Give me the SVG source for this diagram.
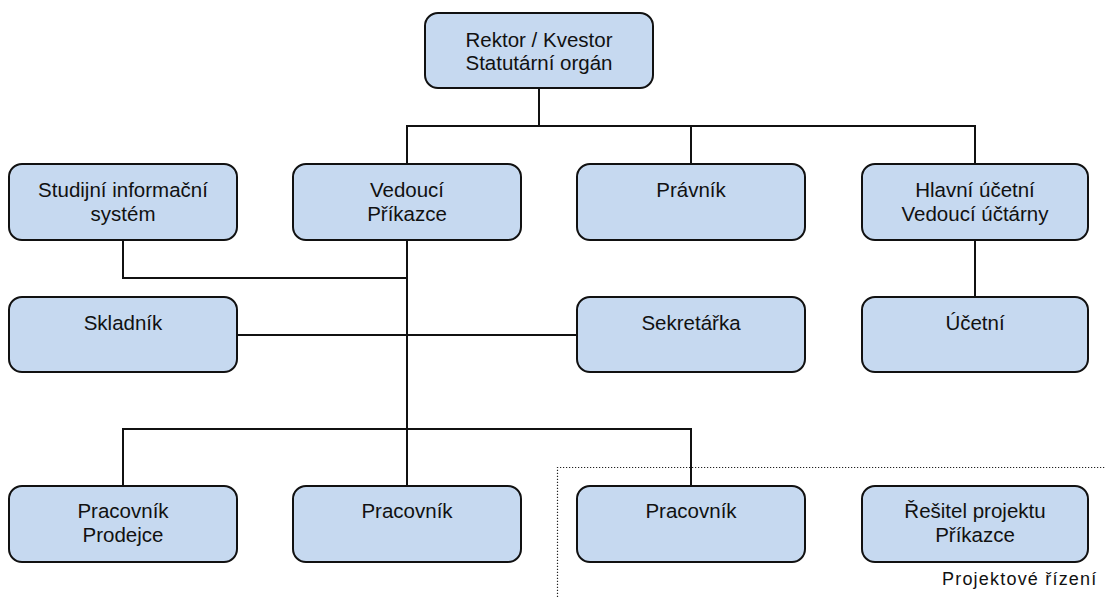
<svg xmlns="http://www.w3.org/2000/svg" width="1105" height="597" viewBox="0 0 1105 597">
  <style>
    .box { fill: #c6d9f0; stroke: #111; stroke-width: 2; }
    .lbl { font-family: "Liberation Sans", Arial, sans-serif; font-size: 20.5px; fill: #111; text-anchor: middle; }
    .link { fill: none; stroke: #111; stroke-width: 2; }
    .zone { fill: none; stroke: #222; stroke-width: 1.2; stroke-dasharray: 1.2 1.8; }
    .cap { font-family: "Liberation Sans", Arial, sans-serif; font-size: 18px; fill: #111; letter-spacing: 1.2px; }
  </style>

  <!-- project management zone -->
  <g id="zone-projekt">
    <path class="zone" d="M557.5 597 V467.5 H1105"/>
    <text class="cap" x="942" y="585">Projektové řízení</text>
  </g>

  <!-- connectors -->
  <g id="connectors">
    <path class="link" d="M539 88 V126"/>
    <path class="link" d="M407 164 V126 H975 V164"/>
    <path class="link" d="M691 126 V164"/>
    <path class="link" d="M975 240 V297"/>
    <path class="link" d="M407 240 V486"/>
    <path class="link" d="M123 240 V278 H407"/>
    <path class="link" d="M237 335 H577"/>
    <path class="link" d="M123 486 V429 H691 V486"/>
  </g>

  <g id="rektor">
    <rect class="box" x="425" y="13" width="228" height="75" rx="13"/>
    <text class="lbl" x="539" y="46.5">Rektor / Kvestor</text>
    <text class="lbl" x="539" y="70">Statutární orgán</text>
  </g>

  <g id="studijni-system">
    <rect class="box" x="9" y="164" width="228" height="76" rx="13"/>
    <text class="lbl" x="123" y="197">Studijní informační</text>
    <text class="lbl" x="123" y="220.5">systém</text>
  </g>

  <g id="vedouci">
    <rect class="box" x="293" y="164" width="228" height="76" rx="13"/>
    <text class="lbl" x="407" y="197">Vedoucí</text>
    <text class="lbl" x="407" y="220.5">Příkazce</text>
  </g>

  <g id="pravnik">
    <rect class="box" x="577" y="164" width="228" height="76" rx="13"/>
    <text class="lbl" x="691" y="197">Právník</text>
  </g>

  <g id="hlavni-ucetni">
    <rect class="box" x="862" y="164" width="226" height="76" rx="13"/>
    <text class="lbl" x="975" y="197">Hlavní účetní</text>
    <text class="lbl" x="975" y="220.5">Vedoucí účtárny</text>
  </g>

  <g id="skladnik">
    <rect class="box" x="9" y="297" width="228" height="75" rx="13"/>
    <text class="lbl" x="123" y="329.5">Skladník</text>
  </g>

  <g id="sekretarka">
    <rect class="box" x="577" y="297" width="228" height="75" rx="13"/>
    <text class="lbl" x="691" y="329.5">Sekretářka</text>
  </g>

  <g id="ucetni">
    <rect class="box" x="862" y="297" width="226" height="75" rx="13"/>
    <text class="lbl" x="975" y="329.5">Účetní</text>
  </g>

  <g id="pracovnik-prodejce">
    <rect class="box" x="9" y="486" width="228" height="76" rx="13"/>
    <text class="lbl" x="123" y="518">Pracovník</text>
    <text class="lbl" x="123" y="541.5">Prodejce</text>
  </g>

  <g id="pracovnik-1">
    <rect class="box" x="293" y="486" width="228" height="76" rx="13"/>
    <text class="lbl" x="407" y="518">Pracovník</text>
  </g>

  <g id="pracovnik-2">
    <rect class="box" x="577" y="486" width="228" height="76" rx="13"/>
    <text class="lbl" x="691" y="518">Pracovník</text>
  </g>

  <g id="resitel-projektu">
    <rect class="box" x="862" y="486" width="226" height="76" rx="13"/>
    <text class="lbl" x="975" y="518">Řešitel projektu</text>
    <text class="lbl" x="975" y="541.5">Příkazce</text>
  </g>
</svg>
